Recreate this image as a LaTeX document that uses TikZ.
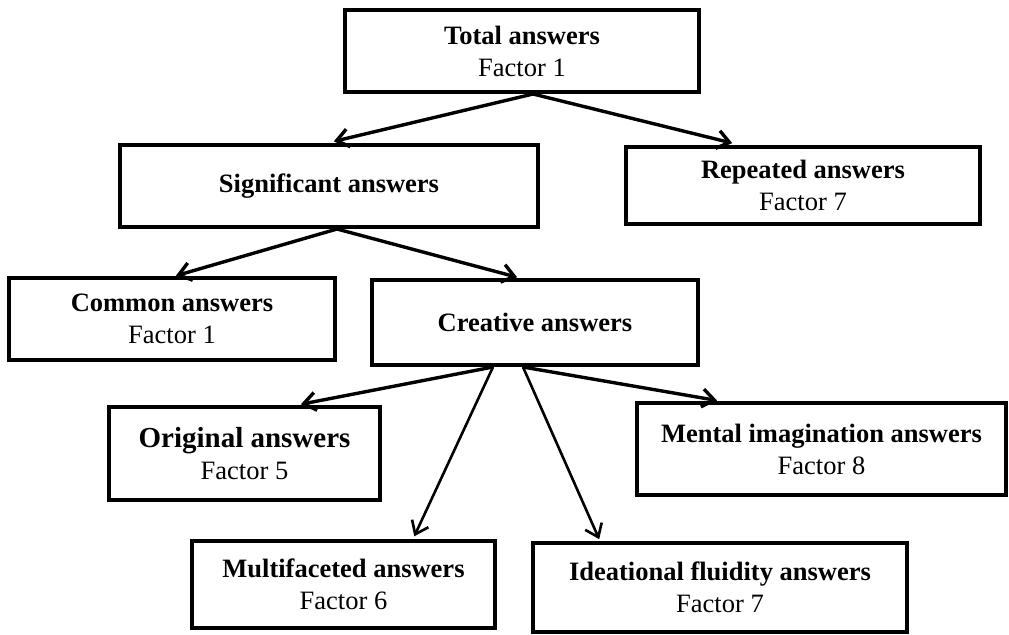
\documentclass[tikz,border=0pt]{standalone}
\usepackage{fontspec}
\setmainfont{Liberation Serif}
\usetikzlibrary{arrows.meta}
\begin{document}
\begin{tikzpicture}[x=0.5pt,y=-0.5pt,
  box/.style={draw, line width=2pt, inner sep=0pt, align=center,
    font=\fontsize{13.25}{16}\selectfont},
  arr/.style={line width=1.7pt, -{Straight Barb[length=6pt,width=9pt]}},
  thinarr/.style={arr, line width=1.3pt}]
\useasboundingbox (0,0) rectangle (1009,634);
\node[box, minimum width=177pt, minimum height=41pt] (tot) at (522,51) {\textbf{Total answers}\\Factor 1};
\node[box, minimum width=209pt, minimum height=41pt] (sig) at (329,186) {\textbf{Significant answers}};
\node[box, minimum width=177pt, minimum height=38.5pt] (rep) at (803,185.5) {\textbf{Repeated answers}\\Factor 7};
\node[box, minimum width=163pt, minimum height=41pt] (com) at (172,319) {\textbf{Common answers}\\Factor 1};
\node[box, minimum width=163pt, minimum height=42.5pt] (cre) at (535,322.5) {\textbf{Creative answers}};
\node[box, minimum width=135.5pt, minimum height=46.5pt] (ori) at (244.5,453.5) {{\fontsize{14.5}{17}\selectfont\textbf{Original answers}}\\Factor 5};
\node[box, minimum width=184.5pt, minimum height=46pt] (men) at (821.5,449) {\textbf{Mental imagination answers}\\Factor 8};
\node[box, minimum width=151.5pt, minimum height=43.5pt] (mul) at (343.5,584.5) {\textbf{Multifaceted answers}\\Factor 6};
\node[box, minimum width=187pt, minimum height=44.5pt] (ide) at (720,587.5) {\textbf{Ideational fluidity answers}\\Factor 7};
\draw[arr, shorten >=3.5pt] ([xshift=5.5pt]tot.south) -- ([xshift=-1pt]sig.north);
\draw[arr, shorten >=4pt] ([xshift=5.5pt]tot.south) -- ([xshift=-31.5pt]rep.north);
\draw[arr, shorten >=0.5pt] ([xshift=4pt]sig.south) -- ([xshift=1.5pt]com.north);
\draw[arr, shorten >=1.5pt] ([xshift=4pt]sig.south) -- ([xshift=-7.5pt]cre.north);
\draw[arr, shorten >=2pt] ([xshift=-21pt]cre.south) -- ([xshift=26.25pt]ori.north);
\draw[thinarr, shorten >=1.5pt] ([xshift=-21pt]cre.south) -- ([xshift=34.75pt]mul.north);
\draw[thinarr, shorten >=1pt] ([xshift=-6pt]cre.south) -- ([xshift=-60pt]ide.north);
\draw[arr, shorten >=1.5pt] ([xshift=-6pt]cre.south) -- ([xshift=-50.75pt]men.north);
\end{tikzpicture}
\end{document}
